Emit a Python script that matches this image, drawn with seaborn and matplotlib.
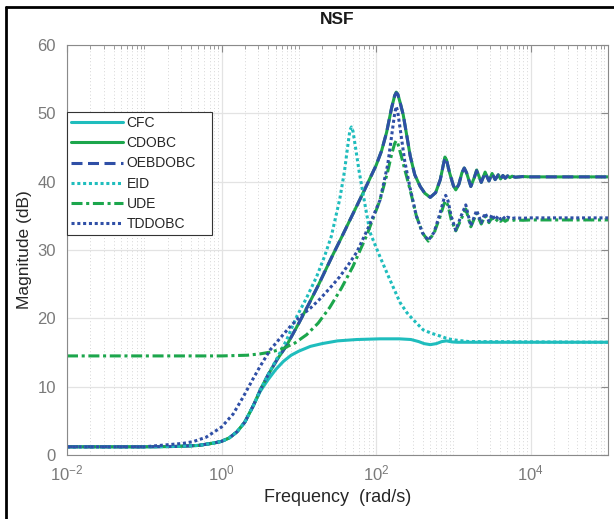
import numpy as np
import pandas as pd
import seaborn as sns
import matplotlib.pyplot as plt
from matplotlib.ticker import FixedLocator, LogLocator, LogFormatterSciNotation, NullFormatter
from matplotlib.lines import Line2D

# values: log10(frequency in rad/s) -> magnitude in dB
cfc_logw = [-2, -1, -0.6, -0.3, -0.1, 0, 0.1, 0.2, 0.3, 0.41, 0.5, 0.6, 0.7, 0.8, 0.9, 1.0,
            1.15, 1.3, 1.5, 1.75, 2.05, 2.3, 2.45, 2.55, 2.62, 2.7, 2.78, 2.85, 2.91, 2.98,
            3.05, 3.2, 5]
cfc_db = [1.2, 1.2, 1.25, 1.4, 1.75, 2.0, 2.5, 3.4, 4.8, 7.2, 9.3, 11.0, 12.5, 13.7, 14.6,
          15.2, 15.9, 16.3, 16.7, 16.9, 17.0, 17.0, 16.9, 16.6, 16.3, 16.15, 16.3, 16.6, 16.7,
          16.55, 16.5, 16.5, 16.5]

cdobc_logw = [-2, -1, -0.6, -0.3, -0.1, 0, 0.1, 0.2, 0.3, 0.41, 0.5, 0.6, 0.72, 0.84, 1.0,
              1.12, 1.25, 1.44, 1.55, 1.7, 1.85, 2.0, 2.07, 2.135, 2.2, 2.24, 2.26, 2.28, 2.31,
              2.35, 2.4, 2.44, 2.5, 2.57, 2.63, 2.7, 2.77, 2.83, 2.87, 2.89, 2.91, 2.95, 3.0,
              3.03, 3.07, 3.11, 3.14, 3.17, 3.225, 3.27, 3.3, 3.33, 3.36, 3.41, 3.46, 3.5, 3.54,
              3.58, 3.61, 3.64, 3.67, 3.7, 3.73, 3.76, 3.8, 3.9, 4.0, 5.0]
cdobc_db = [1.2, 1.2, 1.25, 1.4, 1.75, 2.0, 2.5, 3.4, 4.8, 7.2, 9.5, 11.7, 14.0, 16.0, 19.3,
            21.9, 24.8, 29.3, 31.8, 35.3, 38.8, 42.4, 44.5, 47.2, 50.8, 52.6, 53.1, 52.8, 51.6,
            49.8, 46.5, 43.8, 41.0, 39.3, 38.3, 37.7, 38.4, 40.3, 42.5, 43.6, 43.2, 41.3, 39.4,
            38.8, 39.6, 41.3, 42.0, 41.3, 39.3, 40.6, 41.7, 40.8, 39.9, 41.4, 40.1, 41.2, 40.3,
            41.0, 40.4, 40.9, 40.5, 40.85, 40.6, 40.8, 40.65, 40.75, 40.7, 40.7]

oebdobc_logw = cdobc_logw
oebdobc_db = [1.2, 1.2, 1.25, 1.4, 1.75, 2.0, 2.5, 3.4, 4.8, 7.2, 9.5, 11.7, 14.0, 16.0, 19.3,
              21.9, 24.8, 29.3, 31.8, 35.3, 38.8, 42.4, 44.5, 47.2, 50.8, 52.6, 53.0, 52.8, 51.6,
              49.8, 46.5, 43.8, 41.0, 39.3, 38.3, 37.7, 38.4, 40.3, 42.5, 43.5, 43.2, 41.3, 39.4,
              38.8, 39.6, 41.3, 42.0, 41.3, 39.3, 40.6, 41.6, 40.8, 39.9, 41.3, 40.1, 41.2, 40.3,
              41.0, 40.4, 40.9, 40.5, 40.85, 40.6, 40.8, 40.65, 40.75, 40.7, 40.7]

eid_logw = [-2, -1, -0.6, -0.3, -0.1, 0, 0.1, 0.2, 0.3, 0.41, 0.5, 0.6, 0.72, 0.84, 0.97,
            1.1, 1.23, 1.33, 1.42, 1.53, 1.59, 1.63, 1.66, 1.68, 1.7, 1.74, 1.78, 1.85, 1.92,
            2.05, 2.18, 2.31, 2.4, 2.48, 2.61, 2.72, 2.83, 2.93, 3.04, 3.2, 5]
eid_db = [1.2, 1.2, 1.25, 1.4, 1.75, 2.0, 2.5, 3.4, 4.8, 7.2, 9.5, 11.7, 14.2, 16.8, 20.2,
          23.0, 26.1, 29.0, 32.0, 37.5, 41.5, 45.0, 47.5, 48.0, 47.4, 44.5, 41.5, 37.0, 32.6,
          29.0, 25.6, 22.3, 20.8, 19.8, 18.3, 17.8, 17.4, 17.0, 16.8, 16.6, 16.5]

ude_logw = [-2, -1, 0, 0.33, 0.5, 0.65, 0.8, 0.95, 1.1, 1.25, 1.4, 1.55, 1.7, 1.88, 2.05,
            2.15, 2.2, 2.24, 2.26, 2.28, 2.32, 2.37, 2.44, 2.52, 2.6, 2.675, 2.75, 2.83, 2.88,
            2.9, 2.93, 2.97, 3.03, 3.1, 3.16, 3.225, 3.3, 3.36, 3.41, 3.46, 3.5, 3.54, 3.58,
            3.61, 3.64, 3.67, 3.7, 3.75, 3.8, 3.9, 4.0, 5.0]
ude_db = [14.5, 14.5, 14.5, 14.6, 14.8, 15.1, 15.6, 16.4, 17.6, 19.3, 21.6, 24.4, 27.6, 32.2,
          37.3, 41.5, 44.0, 45.6, 46.0, 45.6, 44.0, 41.8, 38.8, 35.0, 32.5, 31.3, 32.5, 35.0,
          36.8, 37.2, 36.5, 34.5, 32.8, 34.5, 36.0, 33.4, 35.4, 33.8, 35.0, 34.0, 34.8, 34.1,
          34.6, 34.2, 34.5, 34.2, 34.45, 34.3, 34.4, 34.35, 34.4, 34.4]

tddobc_logw = [-2, -1, -0.8, -0.5, -0.37, -0.2, 0, 0.15, 0.28, 0.4, 0.5, 0.63, 0.75, 0.88,
               1.01, 1.15, 1.27, 1.4, 1.53, 1.65, 1.75, 1.9, 2.05, 2.15, 2.21, 2.24, 2.26, 2.28,
               2.32, 2.37, 2.44, 2.52, 2.6, 2.675, 2.75, 2.83, 2.88, 2.9, 2.93, 2.97, 3.03, 3.1,
               3.16, 3.225, 3.3, 3.36, 3.41, 3.46, 3.5, 3.54, 3.58, 3.61, 3.64, 3.67, 3.7, 3.75,
               3.8, 3.9, 4.0, 5.0]
tddobc_db = [1.2, 1.2, 1.4, 1.7, 1.95, 2.6, 4.1, 6.0, 8.5, 11.0, 13.0, 15.4, 17.0, 18.7,
             20.2, 21.5, 22.8, 24.4, 26.1, 28.0, 29.7, 33.3, 37.3, 42.5, 47.5, 50.0, 51.0, 50.2,
             47.0, 43.0, 39.0, 35.0, 32.5, 31.4, 32.6, 35.5, 37.6, 38.0, 37.2, 35.0, 32.9, 35.0,
             36.6, 33.5, 35.8, 34.0, 35.4, 34.2, 35.2, 34.4, 35.0, 34.5, 34.9, 34.5, 34.8, 34.6,
             34.7, 34.65, 34.7, 34.7]

names = ['CFC', 'CDOBC', 'OEBDOBC', 'EID', 'UDE', 'TDDOBC']
series = [(cfc_logw, cfc_db), (cdobc_logw, cdobc_db), (oebdobc_logw, oebdobc_db),
          (eid_logw, eid_db), (ude_logw, ude_db), (tddobc_logw, tddobc_db)]

cyan, green, blue = '#1fbdbd', '#1ca64c', '#2f4fa6'
styles = {
    'CFC': (cyan, '-'),
    'CDOBC': (green, '-'),
    'OEBDOBC': (blue, (0, (3.6, 1.8))),
    'EID': (cyan, (0, (1, 0.9))),
    'UDE': (green, (0, (3.6, 1.2, 1.0, 1.2))),
    'TDDOBC': (blue, (0, (1, 0.9))),
}

frames = []
for name, (lw_, db) in zip(names, series):
    frames.append(pd.DataFrame({'freq': 10 ** np.array(lw_, dtype=float), 'mag': db, 'ctrl': name}))
df = pd.concat(frames, ignore_index=True)

sns.set_theme(style="white")
plt.rcParams['font.family'] = ['Liberation Sans', 'DejaVu Sans']
plt.rcParams['mathtext.fontset'] = 'custom'
plt.rcParams['mathtext.rm'] = 'Liberation Sans'

fig = plt.figure(figsize=(6.14, 5.19), dpi=100)
ax = fig.add_axes([67 / 614, 1 - 455 / 519, (608 - 67) / 614, 410 / 519])

for name in names:
    color, ls = styles[name]
    sns.lineplot(data=df[df['ctrl'] == name], x='freq', y='mag', color=color, linestyle=ls,
                 linewidth=2.2, label=name, ax=ax, estimator=None, sort=False)

ax.set_xscale('log')
ax.set_xlim(1e-2, 1e5)
ax.set_ylim(0, 60)
ax.xaxis.set_major_locator(FixedLocator([1e-2, 1e0, 1e2, 1e4]))
ax.xaxis.set_major_formatter(LogFormatterSciNotation())
ax.xaxis.set_minor_locator(LogLocator(base=10, subs=np.arange(1, 10), numticks=200))
ax.xaxis.set_minor_formatter(NullFormatter())
ax.set_yticks(range(0, 61, 10))

ax.grid(True, which='major', color='#e3e3e3', linewidth=0.9, linestyle='-')
ax.grid(True, which='minor', axis='x', color='#c8c8c8', linewidth=0.6, linestyle=(0, (1, 3)))
ax.set_axisbelow(True)

for sp in ax.spines.values():
    sp.set_color('#8a8a8a')
    sp.set_linewidth(0.8)
ax.tick_params(which='both', direction='in', top=True, right=True, colors='#8a8a8a',
               labelcolor='#7a7a7a', labelsize=12)
ax.tick_params(which='major', length=5, width=0.8)
ax.tick_params(which='minor', length=3, width=0.6)
ax.tick_params(axis='x', pad=6)
ax.tick_params(axis='y', pad=8)

ax.set_title('NSF', fontsize=12.5, fontweight='bold', color='#1a1a1a', pad=15)
ax.set_xlabel('Frequency  (rad/s)', fontsize=13, color='#262626', labelpad=4)
ax.set_ylabel('Magnitude (dB)', fontsize=12.5, color='#262626', labelpad=4)

leg_h = 123 / 410
leg = ax.legend(loc='upper left', bbox_to_anchor=(0.0, 0.837 - leg_h, 145 / 541, leg_h),
                mode='expand', borderaxespad=0, fontsize=10, frameon=True, fancybox=False,
                framealpha=1, edgecolor='#333333', handlelength=3.7, handletextpad=0.3,
                labelspacing=0.45, borderpad=0.3)
leg.get_frame().set_linewidth(0.8)

# black frame around the exported picture (left and top edges visible)
fig.add_artist(Line2D([5.5 / 614, 5.5 / 614], [0, 1 - 6.5 / 519], color='black', linewidth=2,
                      transform=fig.transFigure))
fig.add_artist(Line2D([5.5 / 614, 1], [1 - 6.5 / 519, 1 - 6.5 / 519], color='black', linewidth=2,
                      transform=fig.transFigure))

fig.savefig('out.png', dpi=100)
